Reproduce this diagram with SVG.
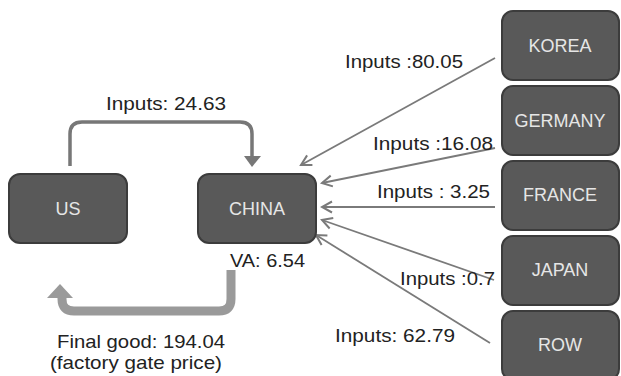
<svg xmlns="http://www.w3.org/2000/svg" width="621" height="376" viewBox="0 0 621 376">
<defs>
<style>
.box{fill:#595959;stroke:#3c3c3c;stroke-width:2}
.bt{font-family:"Liberation Sans",Arial,sans-serif;font-size:18px;fill:#e6e6e6;text-anchor:middle}
.lb{font-family:"Liberation Sans",Arial,sans-serif;font-size:19px;fill:#222}
.thin{fill:none;stroke:#7a7a7a;stroke-width:1.8;marker-end:url(#v)}
</style>
<marker id="v" viewBox="0 -7 14 14" refX="12" refY="0" markerWidth="14" markerHeight="14" markerUnits="userSpaceOnUse" orient="auto">
<path d="M2,-5.5 L12,0 L2,5.5" fill="none" stroke="#7a7a7a" stroke-width="2"/>
</marker>
</defs>
<rect width="621" height="376" fill="#ffffff"/>
<g id="connectors">
<path d="M70,166 V134 Q70,122 82,122 H240 Q252,122 252,134 V156" fill="none" stroke="#777" stroke-width="3.5"/>
<polygon points="244,156 261,156 252,167" fill="#777"/>
<path d="M231,270 V299 Q231,311 219,311 H74 Q62,311 62,299 V297" fill="none" stroke="#9a9a9a" stroke-width="9"/>
<polygon points="47,298 73,298 60,284" fill="#9a9a9a"/>
<line class="thin" x1="495" y1="58" x2="301" y2="165"/>
<line class="thin" x1="495" y1="148" x2="322" y2="183"/>
<line class="thin" x1="495" y1="207" x2="322" y2="207"/>
<line class="thin" x1="494" y1="280" x2="322" y2="220"/>
<line class="thin" x1="490" y1="343" x2="316" y2="235"/>
</g>
<g id="us"><rect class="box" x="9" y="174" width="118" height="69" rx="11"/><text class="bt" x="68" y="215">US</text></g>
<g id="china"><rect class="box" x="198" y="174" width="118" height="69" rx="11"/><text class="bt" x="257" y="215">CHINA</text></g>
<g id="korea"><rect class="box" x="502" y="11" width="117" height="69" rx="11"/><text class="bt" x="560" y="52">KOREA</text></g>
<g id="germany"><rect class="box" x="502" y="86" width="117" height="69" rx="11"/><text class="bt" x="560" y="127">GERMANY</text></g>
<g id="france"><rect class="box" x="502" y="161" width="117" height="69" rx="11"/><text class="bt" x="560" y="201">FRANCE</text></g>
<g id="japan"><rect class="box" x="502" y="236" width="117" height="69" rx="11"/><text class="bt" x="560" y="276">JAPAN</text></g>
<g id="row"><rect class="box" x="502" y="311" width="117" height="69" rx="11"/><text class="bt" x="560" y="351">ROW</text></g>
<g id="labels">
<text class="lb" x="106" y="110" textLength="120" lengthAdjust="spacingAndGlyphs">Inputs: 24.63</text>
<text class="lb" x="230" y="267" textLength="75" lengthAdjust="spacingAndGlyphs">VA: 6.54</text>
<text class="lb" x="57" y="348" textLength="168" lengthAdjust="spacingAndGlyphs">Final good: 194.04</text>
<text class="lb" x="50" y="369" textLength="172" lengthAdjust="spacingAndGlyphs">(factory gate price)</text>
<text class="lb" x="345" y="68" textLength="118" lengthAdjust="spacingAndGlyphs">Inputs :80.05</text>
<text class="lb" x="373" y="150" textLength="120" lengthAdjust="spacingAndGlyphs">Inputs :16.08</text>
<text class="lb" x="377" y="198" textLength="113" lengthAdjust="spacingAndGlyphs">Inputs : 3.25</text>
<text class="lb" x="400" y="285" textLength="95" lengthAdjust="spacingAndGlyphs">Inputs :0.7</text>
<text class="lb" x="335" y="342" textLength="120" lengthAdjust="spacingAndGlyphs">Inputs: 62.79</text>
</g>
</svg>
